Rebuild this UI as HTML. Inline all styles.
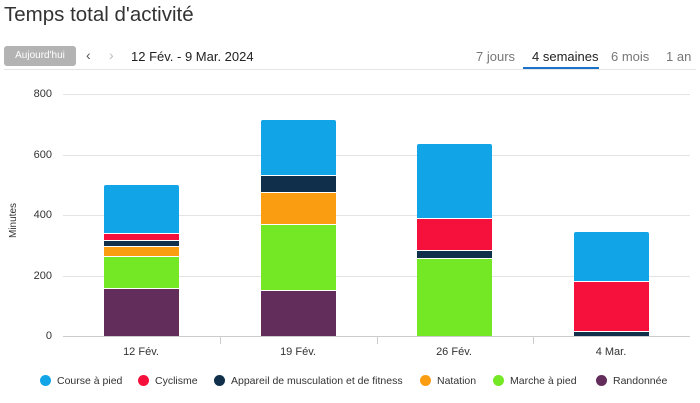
<!DOCTYPE html><html><head><meta charset="utf-8"><style>
body{margin:0;width:700px;height:403px;background:#fff;font-family:"Liberation Sans",sans-serif;position:relative;overflow:hidden;color:#333}
.a{position:absolute}
.g{position:absolute;left:63px;width:627px;height:1px;background:#e4e4e4}
.yl{position:absolute;left:20px;width:32px;text-align:right;font-size:11px;color:#333}
.b{position:absolute;width:75px}
.xl{position:absolute;top:346px;width:120px;text-align:center;font-size:11px;color:#333}
.lg{position:absolute;top:375px;font-size:10.5px;color:#333;white-space:nowrap}
.lg i{display:inline-block;width:11px;height:11px;border-radius:50%;vertical-align:-2px;margin-right:6px}
</style></head><body>
<div class="a" style="left:4px;top:3px;font-size:20.5px;color:#333">Temps total d'activité</div>
<div class="a" style="left:4px;top:46px;width:72px;height:20px;background:#b3b3b3;border-radius:3px;color:#fff;font-size:10px;text-align:center;line-height:20px">Aujourd'hui</div>
<div class="a" style="left:86px;top:47px;font-size:14px;color:#555">‹</div>
<div class="a" style="left:109px;top:47px;font-size:14px;color:#bbb">›</div>
<div class="a" style="left:131px;top:49px;font-size:13px;color:#222">12 Fév. - 9 Mar. 2024</div>
<div class="a" style="left:476px;top:49px;font-size:13px;color:#777">7 jours</div>
<div class="a" style="left:532px;top:49px;font-size:13px;color:#222">4 semaines</div>
<div class="a" style="left:523px;top:67px;width:76px;height:2px;background:#1a73c8"></div>
<div class="a" style="left:611px;top:49px;font-size:13px;color:#777">6 mois</div>
<div class="a" style="left:666px;top:49px;font-size:13px;color:#777">1 an</div>
<div class="a" style="left:4px;top:69px;width:692px;height:1px;background:#e4e4e4"></div>
<div class="g" style="top:94px"></div><div class="g" style="top:155px"></div><div class="g" style="top:215px"></div><div class="g" style="top:276px"></div><div class="g" style="top:336px;background:#ccc"></div>
<div class="yl" style="top:88px">800</div><div class="yl" style="top:149px">600</div><div class="yl" style="top:209px">400</div><div class="yl" style="top:270px">200</div><div class="yl" style="top:330px">0</div>
<div class="a" style="left:-4px;top:215px;font-size:10px;transform:rotate(-90deg);color:#333">Minutes</div>
<div class="a" style="left:220px;top:336px;width:1px;height:8px;background:#ccc"></div>
<div class="a" style="left:377px;top:336px;width:1px;height:8px;background:#ccc"></div>
<div class="a" style="left:533px;top:336px;width:1px;height:8px;background:#ccc"></div>
<div class="b" style="left:104px;top:185px;height:48px;background:#11a5e8;border-radius:2px 2px 0 0"></div>
<div class="b" style="left:104px;top:234px;height:6px;background:#f5113c"></div>
<div class="b" style="left:104px;top:241px;height:5px;background:#0f2f4a"></div>
<div class="b" style="left:104px;top:247px;height:9px;background:#fb9d10"></div>
<div class="b" style="left:104px;top:257px;height:31px;background:#74e825"></div>
<div class="b" style="left:104px;top:289px;height:47px;background:#622c5b"></div>
<div class="b" style="left:261px;top:120px;height:55px;background:#11a5e8;border-radius:2px 2px 0 0"></div>
<div class="b" style="left:261px;top:176px;height:16px;background:#0f2f4a"></div>
<div class="b" style="left:261px;top:193px;height:31px;background:#fb9d10"></div>
<div class="b" style="left:261px;top:225px;height:65px;background:#74e825"></div>
<div class="b" style="left:261px;top:291px;height:45px;background:#622c5b"></div>
<div class="b" style="left:417px;top:144px;height:74px;background:#11a5e8;border-radius:2px 2px 0 0"></div>
<div class="b" style="left:417px;top:219px;height:31px;background:#f5113c"></div>
<div class="b" style="left:417px;top:251px;height:7px;background:#0f2f4a"></div>
<div class="b" style="left:417px;top:259px;height:77px;background:#74e825"></div>
<div class="b" style="left:574px;top:232px;height:49px;background:#11a5e8;border-radius:2px 2px 0 0"></div>
<div class="b" style="left:574px;top:282px;height:49px;background:#f5113c"></div>
<div class="b" style="left:574px;top:332px;height:4px;background:#0f2f4a"></div>
<div class="xl" style="left:81px">12 Fév.</div><div class="xl" style="left:238px">19 Fév.</div><div class="xl" style="left:394px">26 Fév.</div><div class="xl" style="left:551px">4 Mar.</div>
<div class="lg" style="left:40px"><i style="background:#11a5e8"></i>Course à pied</div>
<div class="lg" style="left:138px"><i style="background:#f5113c"></i>Cyclisme</div>
<div class="lg" style="left:214px"><i style="background:#0f2f4a"></i>Appareil de musculation et de fitness</div>
<div class="lg" style="left:420px"><i style="background:#fb9d10"></i>Natation</div>
<div class="lg" style="left:493px"><i style="background:#74e825"></i>Marche à pied</div>
<div class="lg" style="left:596px"><i style="background:#622c5b"></i>Randonnée</div>
</body></html>
